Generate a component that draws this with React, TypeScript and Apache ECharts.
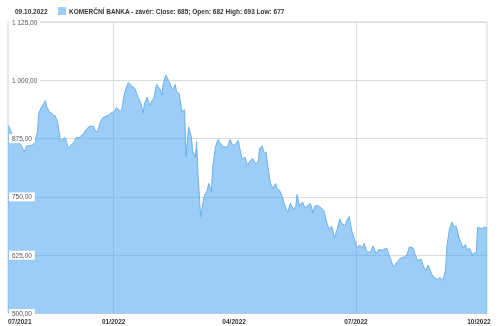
import React, { useEffect, useRef } from "react";
import * as echarts from "echarts";

const headerDate = "09.10.2022";
const seriesName = "KOMERČNÍ BANKA - závěr: Close: 685; Open: 682 High: 693 Low: 677";

const dates = [
  "2021-10-14","2021-10-16","2021-10-18","2021-10-21","2021-10-24","2021-10-26","2021-10-28",
  "2021-11-01","2021-11-03","2021-11-05","2021-11-06","2021-11-08","2021-11-11","2021-11-12","2021-11-14","2021-11-16","2021-11-17","2021-11-18","2021-11-20","2021-11-22","2021-11-23","2021-11-25","2021-11-26","2021-11-28","2021-11-30",
  "2021-12-02","2021-12-04","2021-12-06","2021-12-09","2021-12-11","2021-12-14","2021-12-17","2021-12-18","2021-12-20","2021-12-22","2021-12-24","2021-12-28","2021-12-31",
  "2022-01-01","2022-01-03","2022-01-06","2022-01-07","2022-01-09","2022-01-11","2022-01-12","2022-01-15","2022-01-17","2022-01-19","2022-01-21","2022-01-23","2022-01-24","2022-01-26","2022-01-28","2022-01-30","2022-01-31",
  "2022-02-02","2022-02-05","2022-02-06","2022-02-07","2022-02-09","2022-02-11","2022-02-14","2022-02-16","2022-02-17","2022-02-19","2022-02-21","2022-02-23","2022-02-24","2022-02-26","2022-02-28",
  "2022-03-01","2022-03-03","2022-03-04","2022-03-05","2022-03-07","2022-03-09","2022-03-10","2022-03-12","2022-03-13","2022-03-15","2022-03-16","2022-03-18","2022-03-20","2022-03-22","2022-03-24","2022-03-27","2022-03-29","2022-03-31",
  "2022-04-02","2022-04-04","2022-04-07","2022-04-09","2022-04-11","2022-04-13","2022-04-15","2022-04-17","2022-04-19","2022-04-20","2022-04-22","2022-04-23","2022-04-25","2022-04-26","2022-04-28","2022-04-30",
  "2022-05-02","2022-05-03","2022-05-05","2022-05-07","2022-05-08","2022-05-11","2022-05-13","2022-05-15","2022-05-17","2022-05-18","2022-05-20","2022-05-22","2022-05-24","2022-05-26","2022-05-28","2022-05-30","2022-05-31",
  "2022-06-02","2022-06-05","2022-06-07","2022-06-09","2022-06-11","2022-06-13","2022-06-15","2022-06-17","2022-06-19","2022-06-20","2022-06-23","2022-06-24","2022-06-26","2022-06-28",
  "2022-07-01","2022-07-02","2022-07-04","2022-07-06","2022-07-07","2022-07-09","2022-07-10","2022-07-12","2022-07-14","2022-07-16","2022-07-18","2022-07-21","2022-07-24","2022-07-27","2022-07-29",
  "2022-08-01","2022-08-03","2022-08-06","2022-08-08","2022-08-10","2022-08-13","2022-08-14","2022-08-16","2022-08-19","2022-08-20","2022-08-22","2022-08-24","2022-08-27","2022-08-29","2022-08-31",
  "2022-09-02","2022-09-04","2022-09-06","2022-09-07","2022-09-09","2022-09-11","2022-09-12","2022-09-14","2022-09-16","2022-09-19","2022-09-21","2022-09-22","2022-09-24","2022-09-26","2022-09-27","2022-09-29","2022-09-30",
  "2022-10-03","2022-10-05","2022-10-07"
];

const closes = [
  904,893,876,868,861,846,859,
  861,868,889,929,943,956,943,932,929,923,925,911,875,871,877,876,854,861,
  866,877,877,884,893,902,901,893,889,911,920,925,932,
  930,941,934,936,971,989,995,986,982,964,954,929,950,964,946,959,961,
  991,979,968,993,1011,1000,979,991,975,971,932,937,836,900,879,
  848,835,868,800,707,743,754,764,779,761,812,857,873,864,857,857,873,860,
  863,871,830,836,818,827,832,821,825,854,859,847,845,821,780,768,
  779,768,764,750,739,716,736,725,727,755,730,739,727,732,736,715,729,
  732,727,721,698,680,687,662,680,703,695,688,698,708,677,
  650,640,647,640,650,635,632,632,645,628,637,636,640,616,600,
  611,618,621,625,643,640,629,614,616,605,591,604,582,577,573,
  577,571,593,643,682,696,686,687,664,640,648,636,640,625,630,629,685,
  682,685,685
];

const xMin = "2021-10-14";
const xMax = "2022-10-07";
const tickDates = ["2021-10-14", "2022-01-01", "2022-04-01", "2022-07-01", "2022-10-01"];
const tickLabels = ["07/2021", "01/2022", "04/2022", "07/2022", "10/2022"];
const gridDates = ["2022-01-01", "2022-07-01"];
const yMin = 500;
const yMax = 1125;
const yInterval = 125;

const ts = (s: string) => {
  const [y, m, d] = s.split("-").map(Number);
  return new Date(y, m - 1, d).getTime();
};

const fmtY = (v: number) => {
  const [i, f] = v.toFixed(2).split(".");
  return i.replace(/\B(?=(\d{3})+(?!\d))/g, " ") + "," + f;
};

const FONT = '"Liberation Sans", Arial, sans-serif';

export default function App() {
  const ref = useRef<HTMLDivElement>(null);
  useEffect(() => {
    if (!ref.current) return;
    const chart = echarts.init(ref.current, null, { renderer: "svg" });
    const tickTs = tickDates.map(ts);
    const gridTs = gridDates.map(ts);
    const data = dates.map((d, i) => [ts(d), closes[i]]);
    chart.setOption({
      animation: false,
      textStyle: { fontFamily: FONT },
      grid: { left: 8, right: 13, top: 22, bottom: 12.5, show: true, borderColor: "#d6d6d6", borderWidth: 1 },
      xAxis: {
        type: "value",
        min: ts(xMin),
        max: ts(xMax),
        axisLine: { show: false },
        axisTick: { show: false, customValues: gridTs },
        splitLine: { show: true, lineStyle: { color: "#dcdcdc", width: 1 } },
        axisLabel: {
          customValues: tickTs,
          formatter: (v: number) => {
            let best = 0;
            tickTs.forEach((t, i) => {
              if (Math.abs(t - v) < Math.abs(tickTs[best] - v)) best = i;
            });
            return tickLabels[best];
          },
          fontSize: 6.5,
          fontWeight: "bold",
          color: "#333",
          fontFamily: FONT,
          margin: 4,
          alignMinLabel: "left",
          hideOverlap: false,
          showMinLabel: true,
          showMaxLabel: true,
        },
      },
      yAxis: [
        {
          type: "value",
          min: yMin,
          max: yMax,
          interval: yInterval,
          axisLine: { show: false },
          axisTick: { show: false },
          axisLabel: { show: false },
          splitLine: { lineStyle: { color: "#dcdcdc", width: 1 } },
        },
        {
          type: "value",
          position: "left",
          z: 5,
          min: yMin,
          max: yMax,
          interval: yInterval,
          axisLine: { show: false },
          axisTick: { show: false },
          splitLine: { show: false },
          axisLabel: {
            inside: true,
            margin: 1,
            backgroundColor: "#ffffff",
            padding: [1, 3],
            fontSize: 6.5,
            color: "#555",
            fontFamily: FONT,
            formatter: (v: number) => fmtY(v),
          },
        },
      ],
      series: [
        {
          type: "line",
          name: seriesName,
          yAxisIndex: 0,
          z: 2,
          data,
          showSymbol: false,
          lineStyle: { color: "#6dafea", width: 1 },
          itemStyle: { color: "#6dafea" },
          areaStyle: { color: "rgb(55,155,239)", opacity: 0.5 },
        },
      ],
      graphic: [
        {
          type: "text",
          x: 15,
          y: 11,
          style: { text: headerDate, font: `bold 6.5px ${FONT}`, fill: "#333", verticalAlign: "middle" },
        },
        {
          type: "rect",
          shape: { x: 58, y: 7, width: 8, height: 8 },
          style: { fill: "#9dcdf7" },
        },
        {
          type: "text",
          x: 69,
          y: 11,
          style: { text: seriesName, font: `bold 6.5px ${FONT}`, fill: "#333", verticalAlign: "middle" },
        },
      ],
    });
    return () => chart.dispose();
  }, []);
  return <div ref={ref} style={{ position: "fixed", left: 0, top: 0, width: 500, height: 326 }} />;
}
